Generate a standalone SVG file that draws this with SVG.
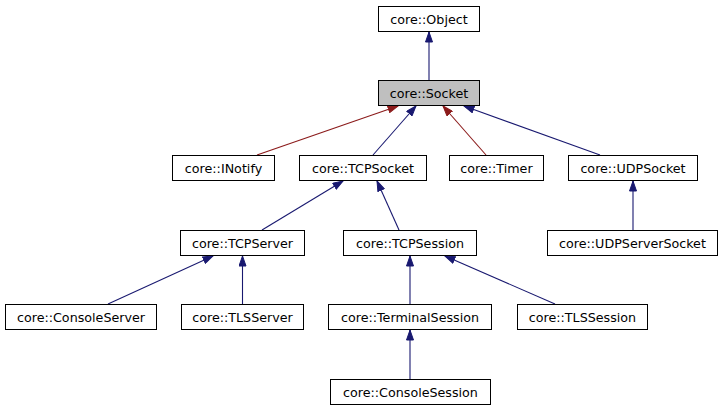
<svg xmlns="http://www.w3.org/2000/svg" width="724" height="411" viewBox="0 0 724 411">
<style>
.n rect{fill:#ffffff;stroke:#000000;stroke-width:1}
.n.cur rect{fill:#bfbfbf}
.n text{font-family:"DejaVu Sans",sans-serif;font-size:12.7px;fill:#000000;text-anchor:middle}
.e{fill:none;stroke-width:1.1}
.pub{stroke:#191970;marker-end:url(#ab)}
.prot{stroke:#8b1a1a;marker-end:url(#ar)}
</style>
<defs>
<marker id="ab" viewBox="0 0 11 8" refX="10.5" refY="4" markerWidth="11" markerHeight="8" markerUnits="userSpaceOnUse" orient="auto">
<path d="M0.5,0.5 L10.5,4 L0.5,7.5 z" fill="#191970" stroke="#191970"/>
</marker>
<marker id="ar" viewBox="0 0 11 8" refX="10.5" refY="4" markerWidth="11" markerHeight="8" markerUnits="userSpaceOnUse" orient="auto">
<path d="M0.5,0.5 L10.5,4 L0.5,7.5 z" fill="#8b1a1a" stroke="#8b1a1a"/>
</marker>
</defs>
<rect width="724" height="411" fill="#ffffff"/>
<g id="edges">
<path class="e pub" d="M429,80 L429,32"/>
<path class="e prot" d="M257,155 L398,106"/>
<path class="e pub" d="M373,155 L416,106"/>
<path class="e prot" d="M486,155 L443,106"/>
<path class="e pub" d="M600,155 L464,106"/>
<path class="e pub" d="M633,230 L633,181"/>
<path class="e pub" d="M262,230 L343,181"/>
<path class="e pub" d="M399,230 L377,181"/>
<path class="e pub" d="M108,304 L213,256"/>
<path class="e pub" d="M242.5,304 L242.5,256"/>
<path class="e pub" d="M410,304 L410,256"/>
<path class="e pub" d="M555,304 L445,256"/>
<path class="e pub" d="M410,379 L410,330"/>
</g>
<g id="Object" class="n"><rect x="378.5" y="6.5" width="101" height="25"/><text x="429" y="23.5">core::Object</text></g>
<g id="Socket" class="n cur"><rect x="378.5" y="80.5" width="101" height="25"/><text x="429" y="97.5">core::Socket</text></g>
<g id="INotify" class="n"><rect x="172.5" y="155.5" width="102" height="25"/><text x="223.5" y="172.5">core::INotify</text></g>
<g id="TCPSocket" class="n"><rect x="299.5" y="155.5" width="127" height="25"/><text x="363" y="172.5">core::TCPSocket</text></g>
<g id="Timer" class="n"><rect x="449.5" y="155.5" width="94" height="25"/><text x="496.5" y="172.5">core::Timer</text></g>
<g id="UDPSocket" class="n"><rect x="568.5" y="155.5" width="129" height="25"/><text x="633" y="172.5">core::UDPSocket</text></g>
<g id="UDPServerSocket" class="n"><rect x="547.5" y="230.5" width="170" height="25"/><text x="632.5" y="247.5">core::UDPServerSocket</text></g>
<g id="TCPServer" class="n"><rect x="180.5" y="230.5" width="124" height="25"/><text x="242.5" y="247.5">core::TCPServer</text></g>
<g id="TCPSession" class="n"><rect x="343.5" y="230.5" width="133" height="25"/><text x="410" y="247.5">core::TCPSession</text></g>
<g id="ConsoleServer" class="n"><rect x="5.5" y="304.5" width="151" height="25"/><text x="81" y="321.5">core::ConsoleServer</text></g>
<g id="TLSServer" class="n"><rect x="181.5" y="304.5" width="122" height="25"/><text x="242.5" y="321.5">core::TLSServer</text></g>
<g id="TerminalSession" class="n"><rect x="328.5" y="304.5" width="163" height="25"/><text x="410" y="321.5">core::TerminalSession</text></g>
<g id="TLSSession" class="n"><rect x="517.5" y="304.5" width="130" height="25"/><text x="582.5" y="321.5">core::TLSSession</text></g>
<g id="ConsoleSession" class="n"><rect x="330.5" y="379.5" width="160" height="25"/><text x="410.5" y="396.5">core::ConsoleSession</text></g>
</svg>
